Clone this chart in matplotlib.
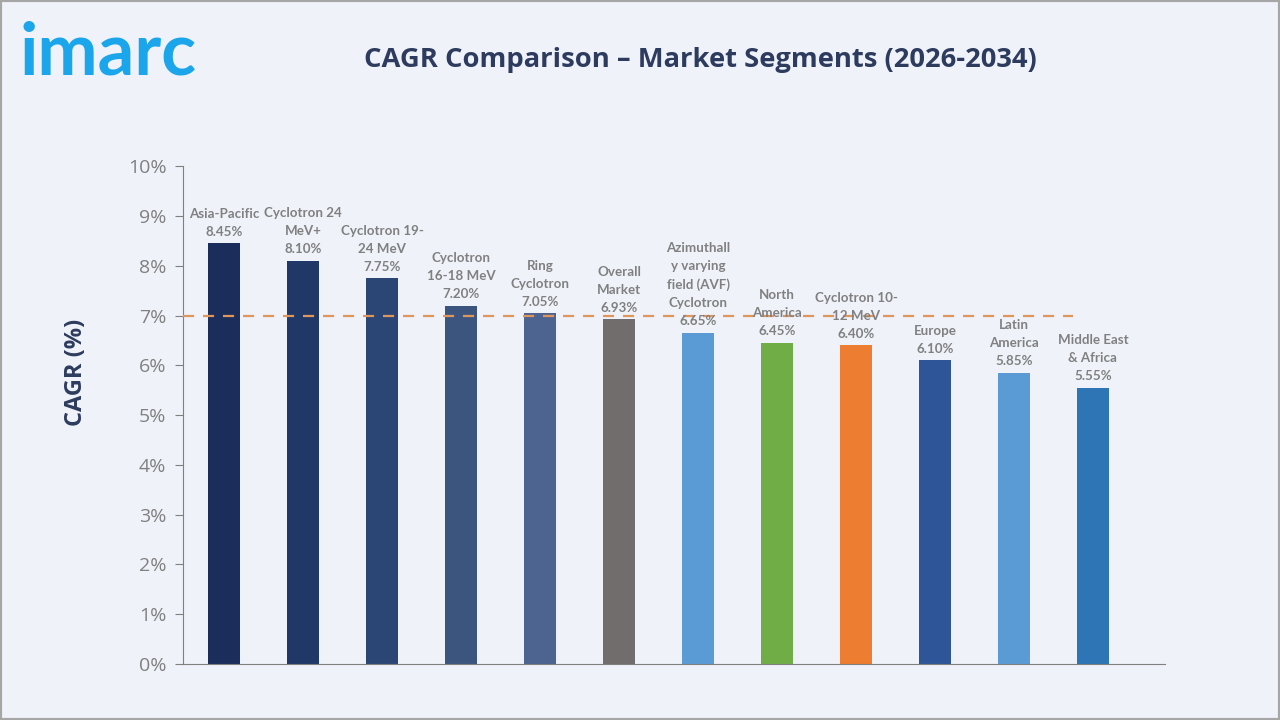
import matplotlib.pyplot as plt
from matplotlib.patches import Rectangle

# segment names as wrapped in the chart labels
segments = [
    "Asia-Pacific",
    "Cyclotron 24\nMeV+",
    "Cyclotron 19-\n24 MeV",
    "Cyclotron\n16-18 MeV",
    "Ring\nCyclotron",
    "Overall\nMarket",
    "Azimuthall\ny varying\nfield (AVF)\nCyclotron",
    "North\nAmerica",
    "Cyclotron 10-\n12 MeV",
    "Europe",
    "Latin\nAmerica",
    "Middle East\n& Africa",
]
cagr = [8.45, 8.10, 7.75, 7.20, 7.05, 6.93, 6.65, 6.45, 6.40, 6.10, 5.85, 5.55]
bar_colors = ["#1b2d5b", "#1f3868", "#2b4674", "#3b557f", "#4d6490", "#726d6d",
              "#5b9bd5", "#70ad47", "#ed7d31", "#2e5597", "#5b9bd5", "#2e75b6"]
ref_line = 7.0
yticks = list(range(0, 11))

bg = "#eff3f9"
navy = "#2d3b5e"
gray = "#808080"

fig = plt.figure(figsize=(12.8, 7.2), dpi=100, facecolor=bg)
ax = fig.add_axes([0.143, 0.078, 0.767, 0.691], facecolor=bg)

x = list(range(len(cagr)))
ax.bar(x, cagr, width=0.405, color=bar_colors, zorder=2)
ax.axhline(ref_line, xmin=0, xmax=0.906, color="#e0955a", lw=1.6,
           dashes=(5, 4), zorder=3)

for xi, v, name in zip(x, cagr, segments):
    ax.annotate(f"{name}\n{v:.2f}%", (xi, v), xytext=(0, 4),
                textcoords="offset points", ha="center", va="bottom",
                fontsize=9.6, color=gray, fontweight="bold",
                family="Lato", linespacing=1.6, zorder=4)

ax.set_xlim(-0.52, 11.91)
ax.set_ylim(0, 10)
ax.set_yticks(yticks)
ax.set_yticklabels([f"{t}%" for t in yticks], fontsize=14, color=gray,
                   family="Open Sans")
ax.set_xticks([])
ax.tick_params(axis="y", length=6, color=gray, pad=6)
for s in ["top", "right"]:
    ax.spines[s].set_visible(False)
for s in ["left", "bottom"]:
    ax.spines[s].set_color(gray)
ax.set_ylabel("CAGR (%)", fontsize=17, fontweight="bold", color=navy,
              family="Open Sans")
ax.yaxis.set_label_coords(-0.097, 0.586)

fig.text(0.547, 0.917, "CAGR Comparison \u2013 Market Segments (2026-2034)",
         ha="center", va="center", fontsize=19.7, fontweight="bold",
         color=navy, family="Open Sans")
fig.text(0.015, 0.896, "imarc", ha="left", va="baseline", fontsize=52,
         fontweight="bold", color="#1ba5ea", family="Lato")

fig.patches.append(Rectangle((0, 0), 1, 1, transform=fig.transFigure,
                             fill=False, edgecolor="#a6a6a6", lw=3))

fig.savefig("out.png", dpi=100, facecolor=bg)
